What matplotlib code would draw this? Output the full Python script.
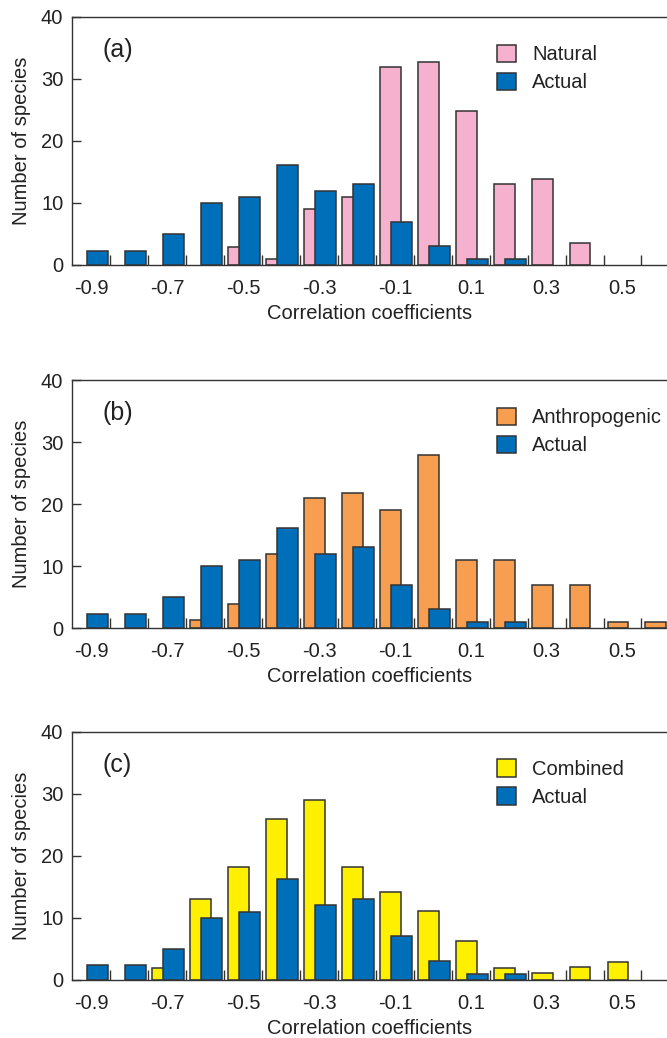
import numpy as np
import matplotlib
matplotlib.use("Agg")
import matplotlib.pyplot as plt
from matplotlib.patches import Patch

plt.rcParams['font.family'] = ['Liberation Sans', 'DejaVu Sans']

# bin centres of the correlation histogram
bins = [-0.9, -0.8, -0.7, -0.6, -0.5, -0.4, -0.3, -0.2, -0.1, 0.0, 0.1, 0.2, 0.3, 0.4, 0.5, 0.6]

actual = [2.3, 2.3, 5.0, 10.0, 10.9, 16.2, 12.0, 13.0, 7.0, 3.0, 0.9, 0.9, 0, 0, 0, 0]
natural = [0, 0, 0, 0, 2.9, 0.9, 9.0, 11.0, 32.0, 32.8, 24.8, 13.0, 13.9, 3.6, 0, 0]
anthropogenic = [0, 0, 0, 1.35, 3.9, 12.0, 21.0, 21.8, 19.1, 27.9, 10.9, 10.9, 6.9, 6.9, 1.0, 1.0]
combined = [0, 0, 1.9, 13.0, 18.1, 26.0, 29.0, 18.2, 14.2, 11.1, 6.3, 1.9, 1.1, 2.1, 2.9, 0]

tick_labels = ['-0.9', '-0.7', '-0.5', '-0.3', '-0.1', '0.1', '0.3', '0.5']
tick_pos = [-0.9, -0.7, -0.5, -0.3, -0.1, 0.1, 0.3, 0.5]
yticks = [0, 10, 20, 30, 40]

panels = [
    ('(a)', 'Natural', natural, '#F5B1CD'),
    ('(b)', 'Anthropogenic', anthropogenic, '#F89E50'),
    ('(c)', 'Combined', combined, '#FFF000'),
]
blue = '#006FB9'
edge = '#333333'
txt = '#222222'

W, H = 667, 1038
fig = plt.figure(figsize=(W / 100, H / 100), dpi=100)

left_px = 72.4
tops_px = [17, 380, 731.7]
height_px = 248
width_bar = 0.055
off_other = -0.012
off_actual = 0.017

for (lab, name, vals, col), top in zip(panels, tops_px):
    ax = fig.add_axes([left_px / W, 1 - (top + height_px) / H, (W - left_px) / W, height_px / H])
    b = np.array(bins)
    v = np.array(vals)
    a = np.array(actual)
    m = v > 0
    ax.bar(b[m] + off_other, v[m], width=width_bar, color=col, edgecolor=edge, linewidth=1.1, zorder=2)
    m = a > 0
    ax.bar(b[m] + off_actual, a[m], width=width_bar, color=blue, edgecolor=edge, linewidth=1.1, zorder=3)

    ax.set_xlim(-0.95, -0.95 + (W - left_px) / 379.4)
    ax.set_ylim(0, 40)

    ax.set_xticks(tick_pos)
    ax.set_xticklabels(tick_labels)
    ax.set_xticks(np.arange(-0.85, 0.56, 0.1), minor=True)
    ax.tick_params(axis='x', which='major', length=0, pad=10, labelsize=14.5, labelcolor=txt)
    ax.tick_params(axis='x', which='minor', direction='in', length=7, width=1, color=edge)
    ax.set_yticks(yticks)
    ax.tick_params(axis='y', direction='in', length=6.5, width=1, color=edge,
                   pad=6.5, labelsize=14.5, labelcolor=txt)

    for s in ['top', 'left', 'bottom']:
        ax.spines[s].set_color(edge)
        ax.spines[s].set_linewidth(1)
    ax.spines['right'].set_visible(False)

    ax.set_xlabel('Correlation coefficients', fontsize=14.5, color=txt, labelpad=4.5)
    ax.set_ylabel('Number of species', fontsize=14.5, color=txt, labelpad=7)

    ax.text(0.05, 0.867, lab, transform=ax.transAxes, fontsize=18, color=txt,
            ha='left', va='center')

    handles = [Patch(facecolor=col, edgecolor=edge, linewidth=1.1, label=name),
               Patch(facecolor=blue, edgecolor=edge, linewidth=1.1, label='Actual')]
    ax.legend(handles=handles, loc='upper left', bbox_to_anchor=(0.714, 0.889),
              frameon=False, fontsize=14.5, handlelength=0.95, handleheight=0.95,
              handletextpad=0.8, labelspacing=0.42, borderpad=0, borderaxespad=0,
              labelcolor=txt)

fig.savefig('out.png', dpi=100)
